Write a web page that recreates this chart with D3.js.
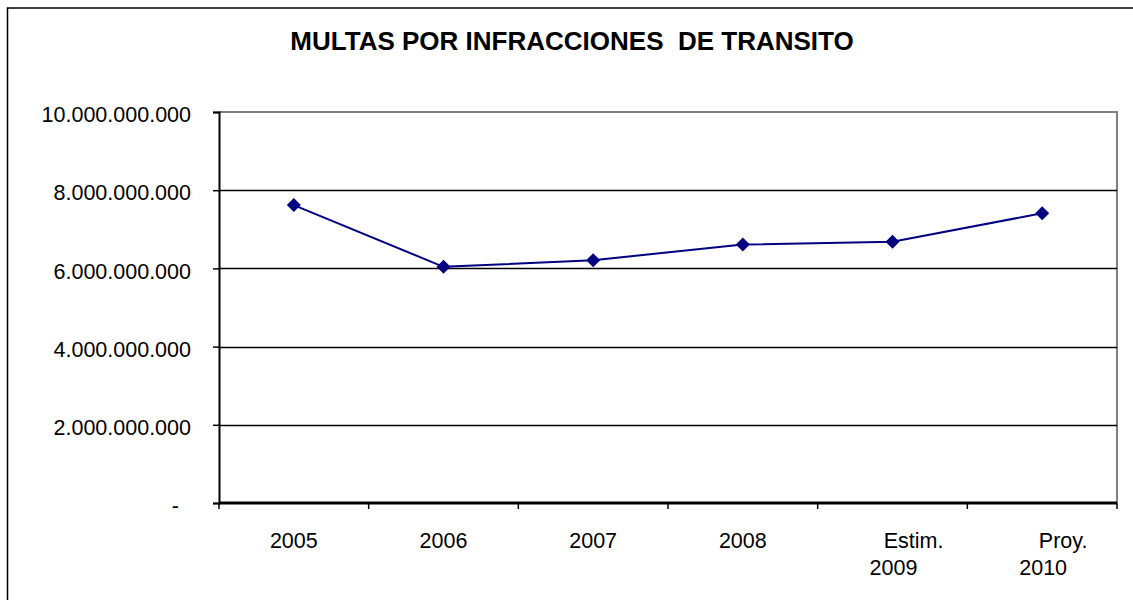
<!DOCTYPE html>
<html>
<head>
<meta charset="utf-8">
<script src="https://cdn.jsdelivr.net/npm/d3@7"></script>
<style>
  body { margin: 0; background: #fff; }
  svg { font-family: "Liberation Sans", Arial, sans-serif; }
</style>
</head>
<body>
<svg id="chart" width="1133" height="600"></svg>
<script>
/* Chart data */
var years = ["2005", "2006", "2007", "2008", "2009", "2010"];
var yearLabels = [["2005"], ["2006"], ["2007"], ["2008"], ["Estim.", "2009"], ["Proy.", "2010"]];
var multas = [7620000000, 6040000000, 6210000000, 6610000000, 6680000000, 7410000000];
var yTicks = [0, 2000000000, 4000000000, 6000000000, 8000000000, 10000000000];

var svg = d3.select("#chart");

/* Plot area */
var plotLeft = 219, plotRight = 1117, plotTop = 112, plotBottom = 503;

var x = d3.scaleBand().domain(years).range([plotLeft, plotRight]);
var y = d3.scaleLinear().domain([0, 10000000000]).range([plotBottom, plotTop]);

/* Outer chart border (runs off the picture on right and bottom) */
svg.append("rect")
  .attr("x", 7.5).attr("y", 8)
  .attr("width", 1140).attr("height", 600)
  .attr("fill", "none")
  .attr("stroke", "#000")
  .attr("stroke-width", 1.5);

/* Title */
svg.append("text")
  .attr("x", 572).attr("y", 50)
  .attr("text-anchor", "middle")
  .attr("font-size", 26)
  .attr("font-weight", "bold")
  .attr("xml:space", "preserve")
  .style("white-space", "pre")
  .text("MULTAS POR INFRACCIONES  DE TRANSITO");

/* Plot area frame (gray top and right) */
svg.append("path")
  .attr("d", "M" + plotLeft + "," + plotTop + "H" + plotRight + "V" + plotBottom)
  .attr("fill", "none")
  .attr("stroke", "#808080")
  .attr("stroke-width", 2);

/* Gridlines */
svg.append("g")
  .selectAll("line")
  .data(yTicks.filter(function(d) { return d > 0 && d < 10000000000; }))
  .join("line")
  .attr("x1", plotLeft).attr("x2", plotRight)
  .attr("y1", function(d) { return Math.round(y(d)) + 0.5; })
  .attr("y2", function(d) { return Math.round(y(d)) + 0.5; })
  .attr("stroke", "#000")
  .attr("stroke-width", 1.5);

/* Y axis */
var fmt = function(d) {
  if (d === 0) return "-";
  return d3.format(",")(d).replace(/,/g, ".");
};
var yAxis = svg.append("g")
  .attr("transform", "translate(" + plotLeft + ",0)")
  .call(d3.axisLeft(y).tickValues(yTicks).tickSize(6).tickPadding(22).tickFormat(fmt));
yAxis.select(".domain").attr("stroke", "#000").attr("stroke-width", 2);
yAxis.selectAll(".tick line").attr("stroke", "#000").attr("stroke-width", 1.5);
yAxis.selectAll(".tick text")
  .attr("font-size", 21.5)
  .attr("dy", "0.45em")
  .attr("fill", "#000")
  .attr("font-family", "'Liberation Sans', Arial, sans-serif");
yAxis.selectAll(".tick").filter(function(d) { return d === 0; })
  .select("text").attr("dx", -12);

/* X axis */
var xAxis = svg.append("g")
  .attr("transform", "translate(0," + plotBottom + ")");
xAxis.append("line")
  .attr("x1", plotLeft).attr("x2", plotRight)
  .attr("y1", 0).attr("y2", 0)
  .attr("stroke", "#000").attr("stroke-width", 3);
var edges = years.map(function(d) { return x(d); }).concat([plotRight]);
xAxis.selectAll(".xtick")
  .data(edges)
  .join("line")
  .attr("class", "xtick")
  .attr("x1", function(d) { return d; }).attr("x2", function(d) { return d; })
  .attr("y1", 0).attr("y2", 6)
  .attr("stroke", "#000").attr("stroke-width", 1.5);

var labels = xAxis.selectAll(".xlabel")
  .data(years)
  .join("text")
  .attr("class", "xlabel")
  .attr("font-size", 21.5)
  .attr("fill", "#000")
  .attr("text-anchor", "middle");
labels.each(function(d, i) {
  var lines = yearLabels[i];
  var cx = x(d) + x.bandwidth() / 2;
  var t = d3.select(this);
  if (lines.length === 1) {
    t.append("tspan").attr("x", cx).attr("y", 45).text(lines[0]);
  } else {
    t.append("tspan").attr("x", cx + 21).attr("y", 45).text(lines[0]);
    t.append("tspan").attr("x", cx + 1).attr("y", 72).text(lines[1]);
  }
});

/* Series line */
var line = d3.line()
  .x(function(d, i) { return x(years[i]) + x.bandwidth() / 2; })
  .y(function(d) { return y(d); });

svg.append("path")
  .datum(multas)
  .attr("d", line)
  .attr("fill", "none")
  .attr("stroke", "#000080")
  .attr("stroke-width", 2);

/* Diamond markers */
svg.append("g")
  .selectAll("path")
  .data(multas)
  .join("path")
  .attr("transform", function(d, i) {
    return "translate(" + (x(years[i]) + x.bandwidth() / 2) + "," + y(d) + ")";
  })
  .attr("d", "M0,-7L7,0L0,7L-7,0Z")
  .attr("fill", "#000080");
</script>
</body>
</html>
